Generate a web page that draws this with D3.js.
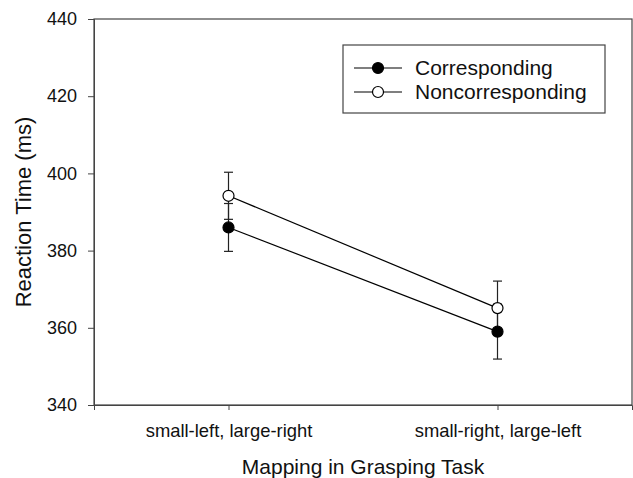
<!DOCTYPE html>
<html>
<head>
<meta charset="utf-8">
<script src="https://cdn.jsdelivr.net/npm/d3@7"></script>
<style>
  body { margin: 0; background: #fff; }
  svg text { font-family: "Liberation Sans", Arial, sans-serif; fill: #111; }
</style>
</head>
<body>
<div id="chart"></div>
<script>
// data
var categories = ['small-left, large-right', 'small-right, large-left'];
var seriesNames = ['Corresponding', 'Noncorresponding'];
var corresponding = [386, 359];
var correspondingErr = [6.2, 7.1];
var noncorresponding = [394.2, 365.1];
var noncorrespondingErr = [6.1, 7.0];
var yTicks = [340, 360, 380, 400, 420, 440];

var series = [
  {name: seriesNames[0], values: corresponding, err: correspondingErr, fill: '#000'},
  {name: seriesNames[1], values: noncorresponding, err: noncorrespondingErr, fill: '#fff'}
];

var W = 633, H = 478;
var margin = {top: 19, right: 1, bottom: 73, left: 94};
var width = W - margin.left - margin.right;
var height = H - margin.top - margin.bottom;

var x = d3.scaleLinear().domain([0.5, 2.5]).range([0, width]);
var y = d3.scaleLinear().domain([340, 440]).range([height, 0]);

var svg = d3.select('#chart').append('svg')
  .attr('width', W)
  .attr('height', H);

var g = svg.append('g')
  .attr('transform', 'translate(' + margin.left + ',' + margin.top + ')');

// frame
g.append('rect')
  .attr('x', 0).attr('y', 0)
  .attr('width', width).attr('height', height)
  .attr('fill', 'none')
  .attr('stroke', '#444')
  .attr('stroke-width', 1.2);

var yaxis = d3.axisLeft(y).tickValues(yTicks).tickSize(6).tickPadding(11);
var gy = g.append('g').call(yaxis);
gy.select('.domain').attr('stroke', '#444');
gy.selectAll('.tick line').attr('stroke', '#444');
gy.selectAll('.tick text').style('font-size', '18px').attr('fill', '#111');

var xaxis = d3.axisBottom(x).tickValues([1, 2])
  .tickFormat(function(d) { return categories[d - 1]; })
  .tickSize(5).tickPadding(14);
var gx = g.append('g')
  .attr('transform', 'translate(0,' + height + ')')
  .call(xaxis);
gx.select('.domain').attr('stroke', '#444');
gx.selectAll('.tick line').attr('stroke', '#444');
gx.selectAll('.tick text').style('font-size', '18.4px').attr('fill', '#111');

// axis titles
svg.append('text')
  .attr('transform', 'translate(31,' + (margin.top + height / 2) + ') rotate(-90)')
  .attr('text-anchor', 'middle')
  .style('font-size', '22px')
  .text('Reaction Time (ms)');

svg.append('text')
  .attr('x', margin.left + x(1.5))
  .attr('y', 474)
  .attr('text-anchor', 'middle')
  .style('font-size', '21px')
  .text('Mapping in Grasping Task');

var line = d3.line()
  .x(function(d, i) { return x(i + 1); })
  .y(function(d) { return y(d); });

series.forEach(function(s) {
  g.append('path')
    .attr('d', line(s.values))
    .attr('fill', 'none')
    .attr('stroke', '#000')
    .attr('stroke-width', 1.2);
});

// error bars
series.forEach(function(s) {
  s.values.forEach(function(v, i) {
    var cx = x(i + 1);
    var eb = g.append('g').attr('stroke', '#222').attr('stroke-width', 1.2);
    eb.append('line')
      .attr('x1', cx).attr('x2', cx)
      .attr('y1', y(v - s.err[i])).attr('y2', y(v + s.err[i]));
    [v - s.err[i], v + s.err[i]].forEach(function(e) {
      eb.append('line')
        .attr('x1', cx - 4.5).attr('x2', cx + 4.5)
        .attr('y1', y(e)).attr('y2', y(e));
    });
  });
});

// markers
series.forEach(function(s) {
  g.selectAll(null).data(s.values).enter()
    .append('circle')
    .attr('cx', function(d, i) { return x(i + 1); })
    .attr('cy', function(d) { return y(d); })
    .attr('r', 5.5)
    .attr('fill', s.fill)
    .attr('stroke', '#000')
    .attr('stroke-width', 1.2);
});

// legend
var legend = svg.append('g').attr('transform', 'translate(343,45)');
legend.append('rect')
  .attr('width', 262).attr('height', 68)
  .attr('fill', '#fff')
  .attr('stroke', '#444')
  .attr('stroke-width', 1.2);

series.forEach(function(s, i) {
  var ly = 23 + i * 24;
  legend.append('line')
    .attr('x1', 11).attr('x2', 59)
    .attr('y1', ly).attr('y2', ly)
    .attr('stroke', '#000').attr('stroke-width', 1.2);
  legend.append('circle')
    .attr('cx', 35).attr('cy', ly).attr('r', 5.5)
    .attr('fill', s.fill)
    .attr('stroke', '#000').attr('stroke-width', 1.2);
  legend.append('text')
    .attr('x', 72).attr('y', ly + 7)
    .style('font-size', '21px')
    .text(s.name);
});
</script>
</body>
</html>
